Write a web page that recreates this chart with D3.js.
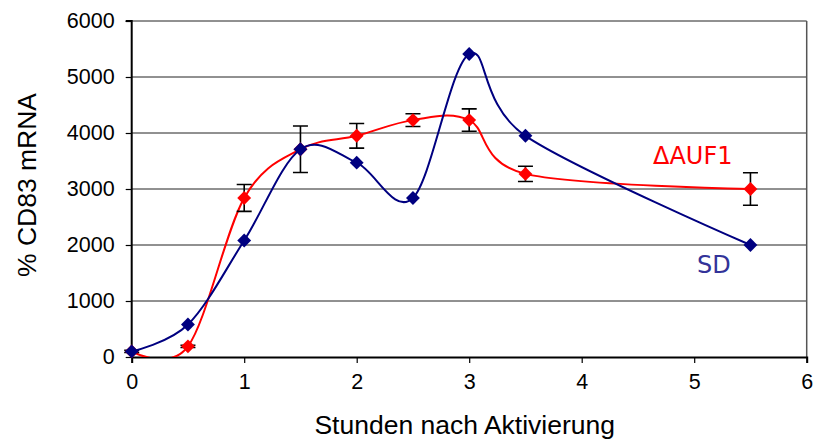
<!DOCTYPE html>
<html><head><meta charset="utf-8">
<script src="https://cdn.jsdelivr.net/npm/d3@7"></script>
<style>body{margin:0;background:#fff}svg{display:block}</style>
</head><body>
<svg id="c" width="814" height="441"></svg>
<script>
const hours = [0, 0.5, 1, 1.5, 2, 2.5, 3, 3.5, 5.5];
const sdValues = [100, 580, 2080, 3710, 3470, 2840, 5410, 3950, 2000];
const auf1Values = [100, 190, 2840, 3710, 3950, 4230, 4230, 3270, 3000];
const auf1Errors = [20, 20, 240, 415, 220, 115, 200, 135, 290];
const xTicks = [0, 1, 2, 3, 4, 5, 6];
const yTicks = [0, 1000, 2000, 3000, 4000, 5000, 6000];
const seriesNames = ["SD", "\u0394AUF1"];

const svg = d3.select("#c");
const L = 131.7, R = 806.7, T = 21, B = 357;
const x = d3.scaleLinear().domain([0, 6]).range([L, R]);
const y = d3.scaleLinear().domain([0, 6000]).range([B, T]);

svg.append("defs").append("clipPath").attr("id", "clip")
  .append("rect").attr("x", L).attr("y", T).attr("width", R - L).attr("height", B - T);

// gridlines
svg.append("g").selectAll("line").data(yTicks.filter(d => d > 0)).join("line")
  .attr("x1", L).attr("x2", R).attr("y1", d => y(d)).attr("y2", d => y(d))
  .attr("stroke", "#222").attr("stroke-width", 1);
// right border
svg.append("line").attr("x1", R).attr("x2", R).attr("y1", T).attr("y2", B)
  .attr("stroke", "#555").attr("stroke-width", 1.5);

// axes
const yAxis = svg.append("g").attr("transform", `translate(${L},0)`)
  .call(d3.axisLeft(y).tickValues(yTicks).tickSize(6).tickPadding(11).tickFormat(d3.format("d")));
const xAxis = svg.append("g").attr("transform", `translate(0,${B})`)
  .call(d3.axisBottom(x).tickValues(xTicks).tickSize(6).tickPadding(22).tickFormat(d3.format("d")));
[yAxis, xAxis].forEach(a => {
  a.select(".domain").attr("stroke", "#000").attr("stroke-width", 2);
  a.selectAll(".tick line").attr("stroke", "#000").attr("stroke-width", 1.2);
  a.selectAll("text").attr("font-family", "Liberation Sans, Arial, sans-serif")
    .attr("font-size", 21.5).attr("fill", "#000");
});
yAxis.select(".domain").attr("d", `M-6,${T}H0V${B}`);
xAxis.selectAll(".tick text").attr("dy", "0.2em");

// axis titles
svg.append("text").attr("x", 464.7).attr("y", 434).attr("text-anchor", "middle")
  .attr("font-family", "Liberation Sans, Arial, sans-serif").attr("font-size", 26.5)
  .text("Stunden nach Aktivierung");
svg.append("text").attr("transform", "translate(36,185) rotate(-90)").attr("text-anchor", "middle")
  .attr("font-family", "Liberation Sans, Arial, sans-serif").attr("font-size", 26.5)
  .text("% CD83 mRNA");

const line = d3.line().x(d => x(d[0])).y(d => y(d[1])).curve(d3.curveCatmullRom.alpha(0));
const diamond = d3.symbol().type(d3.symbolSquare).size(96);

const auf1 = hours.map((h, i) => [h, auf1Values[i], auf1Errors[i]]);
const sd = hours.map((h, i) => [h, sdValues[i]]);

// AUF1 line
svg.append("path").datum(auf1).attr("d", line).attr("fill", "none")
  .attr("stroke", "#ff0000").attr("stroke-width", 2).attr("clip-path", "url(#clip)");
// error bars
const eb = svg.append("g").attr("stroke", "#000").attr("stroke-width", 1.6).attr("fill", "none");
eb.selectAll("path").data(auf1).join("path")
  .attr("d", d => {
    const cx = x(d[0]), y1 = y(d[1] + d[2]), y2 = y(d[1] - d[2]);
    return `M${cx - 7.5},${y1}H${cx + 7.5}M${cx},${y1}V${y2}M${cx - 7.5},${y2}H${cx + 7.5}`;
  });
svg.append("g").selectAll("path").data(auf1).join("path")
  .attr("d", diamond).attr("transform", d => `translate(${x(d[0])},${y(d[1])}) rotate(45)`)
  .attr("fill", "#ff0000");

// SD line
svg.append("path").datum(sd).attr("d", line).attr("fill", "none")
  .attr("stroke", "#000080").attr("stroke-width", 2).attr("clip-path", "url(#clip)");
svg.append("g").selectAll("path").data(sd).join("path")
  .attr("d", diamond).attr("transform", d => `translate(${x(d[0])},${y(d[1])}) rotate(45)`)
  .attr("fill", "#000080");

// series labels
svg.append("text").attr("x", 653).attr("y", 164).attr("font-family", "DejaVu Sans, Verdana, sans-serif")
  .attr("font-size", 24).attr("fill", "#ff0000").text(seriesNames[1]);
svg.append("text").attr("x", 697).attr("y", 273).attr("font-family", "DejaVu Sans, Verdana, sans-serif")
  .attr("font-size", 24).attr("fill", "#333399").text(seriesNames[0]);
</script>
</body></html>
